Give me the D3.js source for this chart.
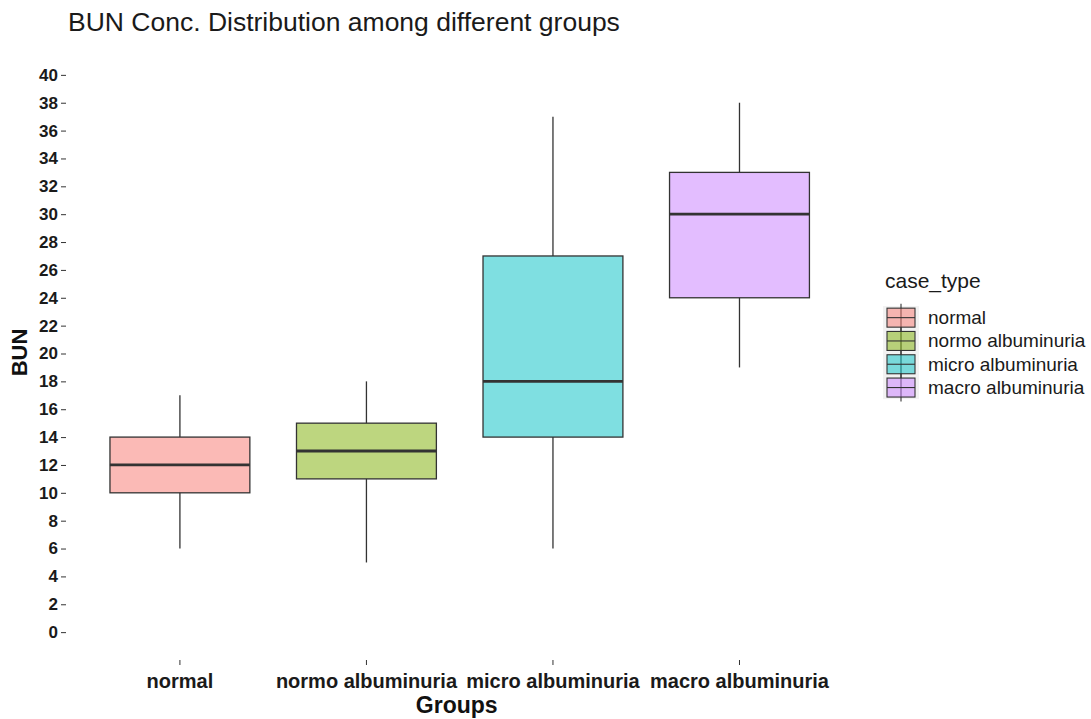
<!DOCTYPE html>
<html>
<head>
<meta charset="utf-8">
<script src="https://cdn.jsdelivr.net/npm/d3@7"></script>
<style>
  html, body { margin: 0; padding: 0; background: #ffffff; }
  svg { display: block; font-family: "Liberation Sans", Arial, sans-serif; }
</style>
</head>
<body>
<svg id="chart" width="1091" height="719"></svg>
<script>
// ---- data ----
const groups = ["normal", "normo albuminuria", "micro albuminuria", "macro albuminuria"];
const whiskerLow  = [6, 5, 6, 19];
const q1          = [10, 11, 14, 24];
const median      = [12, 13, 18, 30];
const q3          = [14, 15, 27, 33];
const whiskerHigh = [17, 18, 37, 38];
const colors = ["#F8766D", "#7CAE00", "#00BFC4", "#C77CFF"];
const yTicks = d3.range(0, 41, 2);
const titleText = "BUN Conc. Distribution among different groups";
const xTitle = "Groups";
const yTitle = "BUN";
const legendTitle = "case_type";

// ---- layout ----
const svg = d3.select("#chart");
const panel = { left: 68, right: 851.4, top: 47, bottom: 660 };

const x = d3.scaleBand().domain(groups).range([panel.left, panel.right])
  .paddingInner(0).paddingOuter(0.1);
const y = d3.scaleLinear().domain([-2, 42]).range([panel.bottom, panel.top]);

const boxes = groups.map((g, i) => ({
  g, lo: whiskerLow[i], q1: q1[i], med: median[i], q3: q3[i], hi: whiskerHigh[i], c: colors[i]
}));

const fillOf = c => { const col = d3.color(c); col.opacity = 0.5; return col; };
const stroke = "#333333";

// ---- y axis ----
const yAxis = d3.axisLeft(y).tickValues(yTicks).tickSize(5).tickPadding(3);
const gy = svg.append("g").attr("transform", `translate(${panel.left - 2},0)`).call(yAxis);
gy.select(".domain").remove();
gy.selectAll(".tick line").attr("stroke", "#333").attr("stroke-width", 1);
gy.selectAll(".tick text").attr("font-size", 17).attr("font-weight", "bold")
  .attr("fill", "#1a1a1a").attr("font-family", "Liberation Sans, Arial, sans-serif");

// ---- x axis ----
const xAxis = d3.axisBottom(x).tickSize(5).tickPadding(9);
const gx = svg.append("g").attr("transform", `translate(0,${panel.bottom})`).call(xAxis);
gx.select(".domain").remove();
gx.selectAll(".tick line").attr("stroke", "#333").attr("stroke-width", 1);
gx.selectAll(".tick text").attr("font-size", 20).attr("font-weight", "bold")
  .attr("fill", "#1a1a1a").attr("font-family", "Liberation Sans, Arial, sans-serif");

// ---- boxes ----
const bw = x.bandwidth() * 0.75;
const gb = svg.append("g");
boxes.forEach(b => {
  const cx = x(b.g) + x.bandwidth() / 2;
  const g = gb.append("g");
  g.append("line").attr("x1", cx).attr("x2", cx).attr("y1", y(b.hi)).attr("y2", y(b.q3))
    .attr("stroke", stroke).attr("stroke-width", 1.3);
  g.append("line").attr("x1", cx).attr("x2", cx).attr("y1", y(b.q1)).attr("y2", y(b.lo))
    .attr("stroke", stroke).attr("stroke-width", 1.3);
  g.append("rect").attr("x", cx - bw / 2).attr("width", bw)
    .attr("y", y(b.q3)).attr("height", y(b.q1) - y(b.q3))
    .attr("fill", fillOf(b.c)).attr("stroke", stroke).attr("stroke-width", 1.3);
  g.append("line").attr("x1", cx - bw / 2).attr("x2", cx + bw / 2)
    .attr("y1", y(b.med)).attr("y2", y(b.med))
    .attr("stroke", stroke).attr("stroke-width", 2.8);
});

// ---- titles ----
svg.append("text").attr("x", 68).attr("y", 31).attr("font-size", 26.5)
  .attr("fill", "#1a1a1a").text(titleText);
svg.append("text").attr("x", (panel.left + panel.right) / 2 - 3).attr("y", 713)
  .attr("text-anchor", "middle").attr("font-size", 23).attr("font-weight", "bold")
  .attr("fill", "#111").text(xTitle);
svg.append("text").attr("transform", `translate(27,${(panel.top + panel.bottom) / 2 - 1}) rotate(-90)`)
  .attr("text-anchor", "middle").attr("font-size", 22).attr("font-weight", "bold")
  .attr("fill", "#111").text(yTitle);

// ---- legend ----
const lg = svg.append("g");
lg.append("text").attr("x", 885).attr("y", 288).attr("font-size", 21)
  .attr("fill", "#1a1a1a").text(legendTitle);
const keyH = 23.3, keyTop = 306, keyX = 883, keyW = 36;
const ly = d3.scaleBand().domain(groups).range([keyTop, keyTop + keyH * groups.length]);
lg.append("rect").attr("x", keyX).attr("y", keyTop).attr("width", keyW)
  .attr("height", keyH * groups.length).attr("fill", "#f2f2f2");
boxes.forEach(b => {
  const cy = ly(b.g) + ly.bandwidth() / 2;
  const cx = keyX + keyW / 2;
  const g = lg.append("g");
  g.append("line").attr("x1", cx).attr("x2", cx).attr("y1", cy - 14).attr("y2", cy + 14)
    .attr("stroke", stroke).attr("stroke-width", 1.1);
  g.append("rect").attr("x", cx - 14).attr("width", 28).attr("y", cy - 9.5).attr("height", 19)
    .attr("fill", fillOf(b.c)).attr("stroke", stroke).attr("stroke-width", 1.1);
  g.append("line").attr("x1", cx - 14).attr("x2", cx + 14).attr("y1", cy).attr("y2", cy)
    .attr("stroke", stroke).attr("stroke-width", 1.1);
  g.append("text").attr("x", 928).attr("y", cy + 6.5).attr("font-size", 19)
    .attr("fill", "#1a1a1a").text(b.g);
});
</script>
</body>
</html>
